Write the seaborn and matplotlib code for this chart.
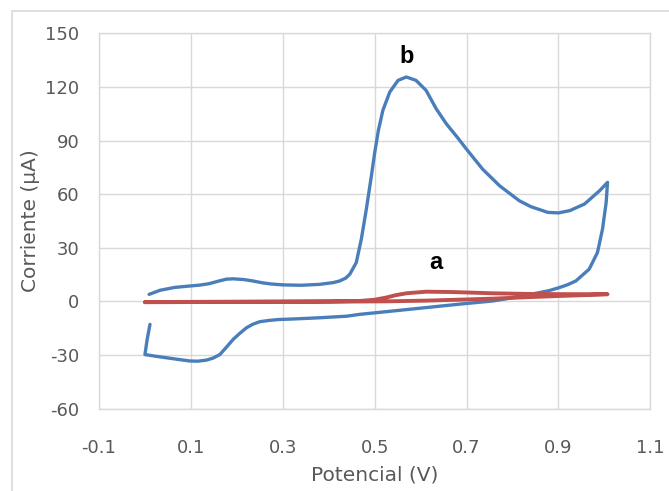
import numpy as np
import pandas as pd
import matplotlib
matplotlib.use("Agg")
import matplotlib.pyplot as plt
import seaborn as sns
from matplotlib.patches import Rectangle

# Curve b (blue) - forward then reverse scan
b_potential = [0.009, 0.033, 0.065, 0.098, 0.120, 0.140, 0.160, 0.177, 0.192, 0.215,
               0.235, 0.255, 0.275, 0.301, 0.340, 0.380, 0.410, 0.424, 0.437, 0.446,
               0.460, 0.471, 0.482, 0.493, 0.500, 0.508, 0.518, 0.533, 0.551, 0.569,
               0.590, 0.612, 0.634, 0.656, 0.681, 0.699, 0.735, 0.772, 0.815, 0.840,
               0.877, 0.900, 0.925, 0.957, 0.990, 1.007,
               1.004, 0.996, 0.985, 0.967, 0.938, 0.920, 0.902, 0.880, 0.859, 0.800,
               0.757, 0.680, 0.612, 0.540, 0.467, 0.440, 0.380, 0.330, 0.290, 0.270,
               0.250, 0.235, 0.221, 0.207, 0.192, 0.178, 0.163, 0.148, 0.134, 0.115,
               0.098, 0.075, 0.047, 0.025, 0.000, 0.005, 0.011]
b_current = [3.9, 6.2, 7.8, 8.6, 9.1, 9.9, 11.3, 12.4, 12.6, 12.2,
             11.4, 10.4, 9.7, 9.2, 9.0, 9.5, 10.5, 11.4, 13.0, 15.2,
             21.7, 34.8, 51.7, 70.4, 83.0, 95.5, 107.0, 117.2, 123.7, 125.6,
             123.7, 118.1, 107.8, 99.4, 91.5, 85.5, 74.0, 64.7, 56.3, 53.0,
             49.8, 49.5, 50.8, 54.5, 62.0, 66.6,
             55.4, 40.4, 27.3, 18.0, 11.4, 9.3, 7.7, 6.0, 4.9, 2.0,
             0.2, -1.7, -3.5, -5.4, -7.3, -8.3, -9.2, -9.8, -10.2, -10.7,
             -11.4, -12.8, -14.8, -17.8, -21.3, -25.5, -29.8, -31.8, -32.9, -33.5,
             -33.4, -32.6, -31.6, -30.8, -29.8, -21.0, -12.9]

# Curve a (red)
a_potential = [0.000, 0.100, 0.200, 0.300, 0.400, 0.467, 0.500, 0.525, 0.545, 0.569,
               0.612, 0.670, 0.757, 0.844, 0.930, 1.007,
               0.960, 0.902, 0.830, 0.757, 0.680, 0.612, 0.525, 0.400, 0.250, 0.100,
               0.000]
a_current = [-0.4, -0.3, -0.2, -0.1, 0.0, 0.2, 0.9, 2.1, 3.4, 4.5,
             5.4, 5.2, 4.5, 4.1, 4.0, 4.0,
             3.5, 3.0, 2.3, 1.5, 0.9, 0.4, 0.0, -0.2, -0.3, -0.4,
             -0.5]

x_ticks = [-0.1, 0.1, 0.3, 0.5, 0.7, 0.9, 1.1]
y_ticks = [-60, -30, 0, 30, 60, 90, 120, 150]

sns.set_style("white")
plt.rcParams['font.family'] = ['DejaVu Sans']

text_col = "#595959"
grid_col = "#d9d9d9"

fig = plt.figure(figsize=(6.69, 4.91), dpi=100)
ax = fig.add_axes([0.148, 0.168, 0.824, 0.764])

# light frame around the chart area, as in the spreadsheet export
fig.patches.append(Rectangle((12 / 669, -0.1), 1.2, 1 - 11 / 491 + 0.1,
                             transform=fig.transFigure, fill=False,
                             edgecolor=grid_col, linewidth=1.2))

df_b = pd.DataFrame({"x": b_potential, "y": b_current})
df_a = pd.DataFrame({"x": a_potential, "y": a_current})

sns.lineplot(data=df_b, x="x", y="y", sort=False, estimator=None, ax=ax,
             color="#4a7ebb", linewidth=2.4, solid_capstyle="round", solid_joinstyle="round")
sns.lineplot(data=df_a, x="x", y="y", sort=False, estimator=None, ax=ax,
             color="#c0504d", linewidth=2.8, solid_capstyle="round", solid_joinstyle="round")

ax.set_xlim(-0.1, 1.1)
ax.set_ylim(-60, 150)
ax.set_xticks(x_ticks)
ax.set_yticks(y_ticks)
ax.set_xticklabels([str(v) for v in x_ticks])
ax.set_yticklabels([str(v) for v in y_ticks])
ax.grid(True, color=grid_col, linewidth=1.0)
ax.set_axisbelow(True)
for s in ax.spines.values():
    s.set_color(grid_col)
    s.set_linewidth(1.0)
ax.tick_params(length=0, labelsize=13, colors=text_col)
ax.tick_params(axis="x", pad=22)
ax.tick_params(axis="y", pad=14)

ax.set_xlabel("Potencial (V)", fontsize=14.5, color=text_col, labelpad=6)
ax.set_ylabel("Corriente (µA)", fontsize=14.5, color=text_col, labelpad=4)

ax.text(0.569, 137, "b", fontsize=17, fontweight="bold", ha="center", va="center",
        color="black", family="Liberation Sans")
ax.text(0.634, 21.7, "a", fontsize=17, fontweight="bold", ha="center", va="center",
        color="black", family="Liberation Sans")

fig.savefig("out.png", dpi=100)
